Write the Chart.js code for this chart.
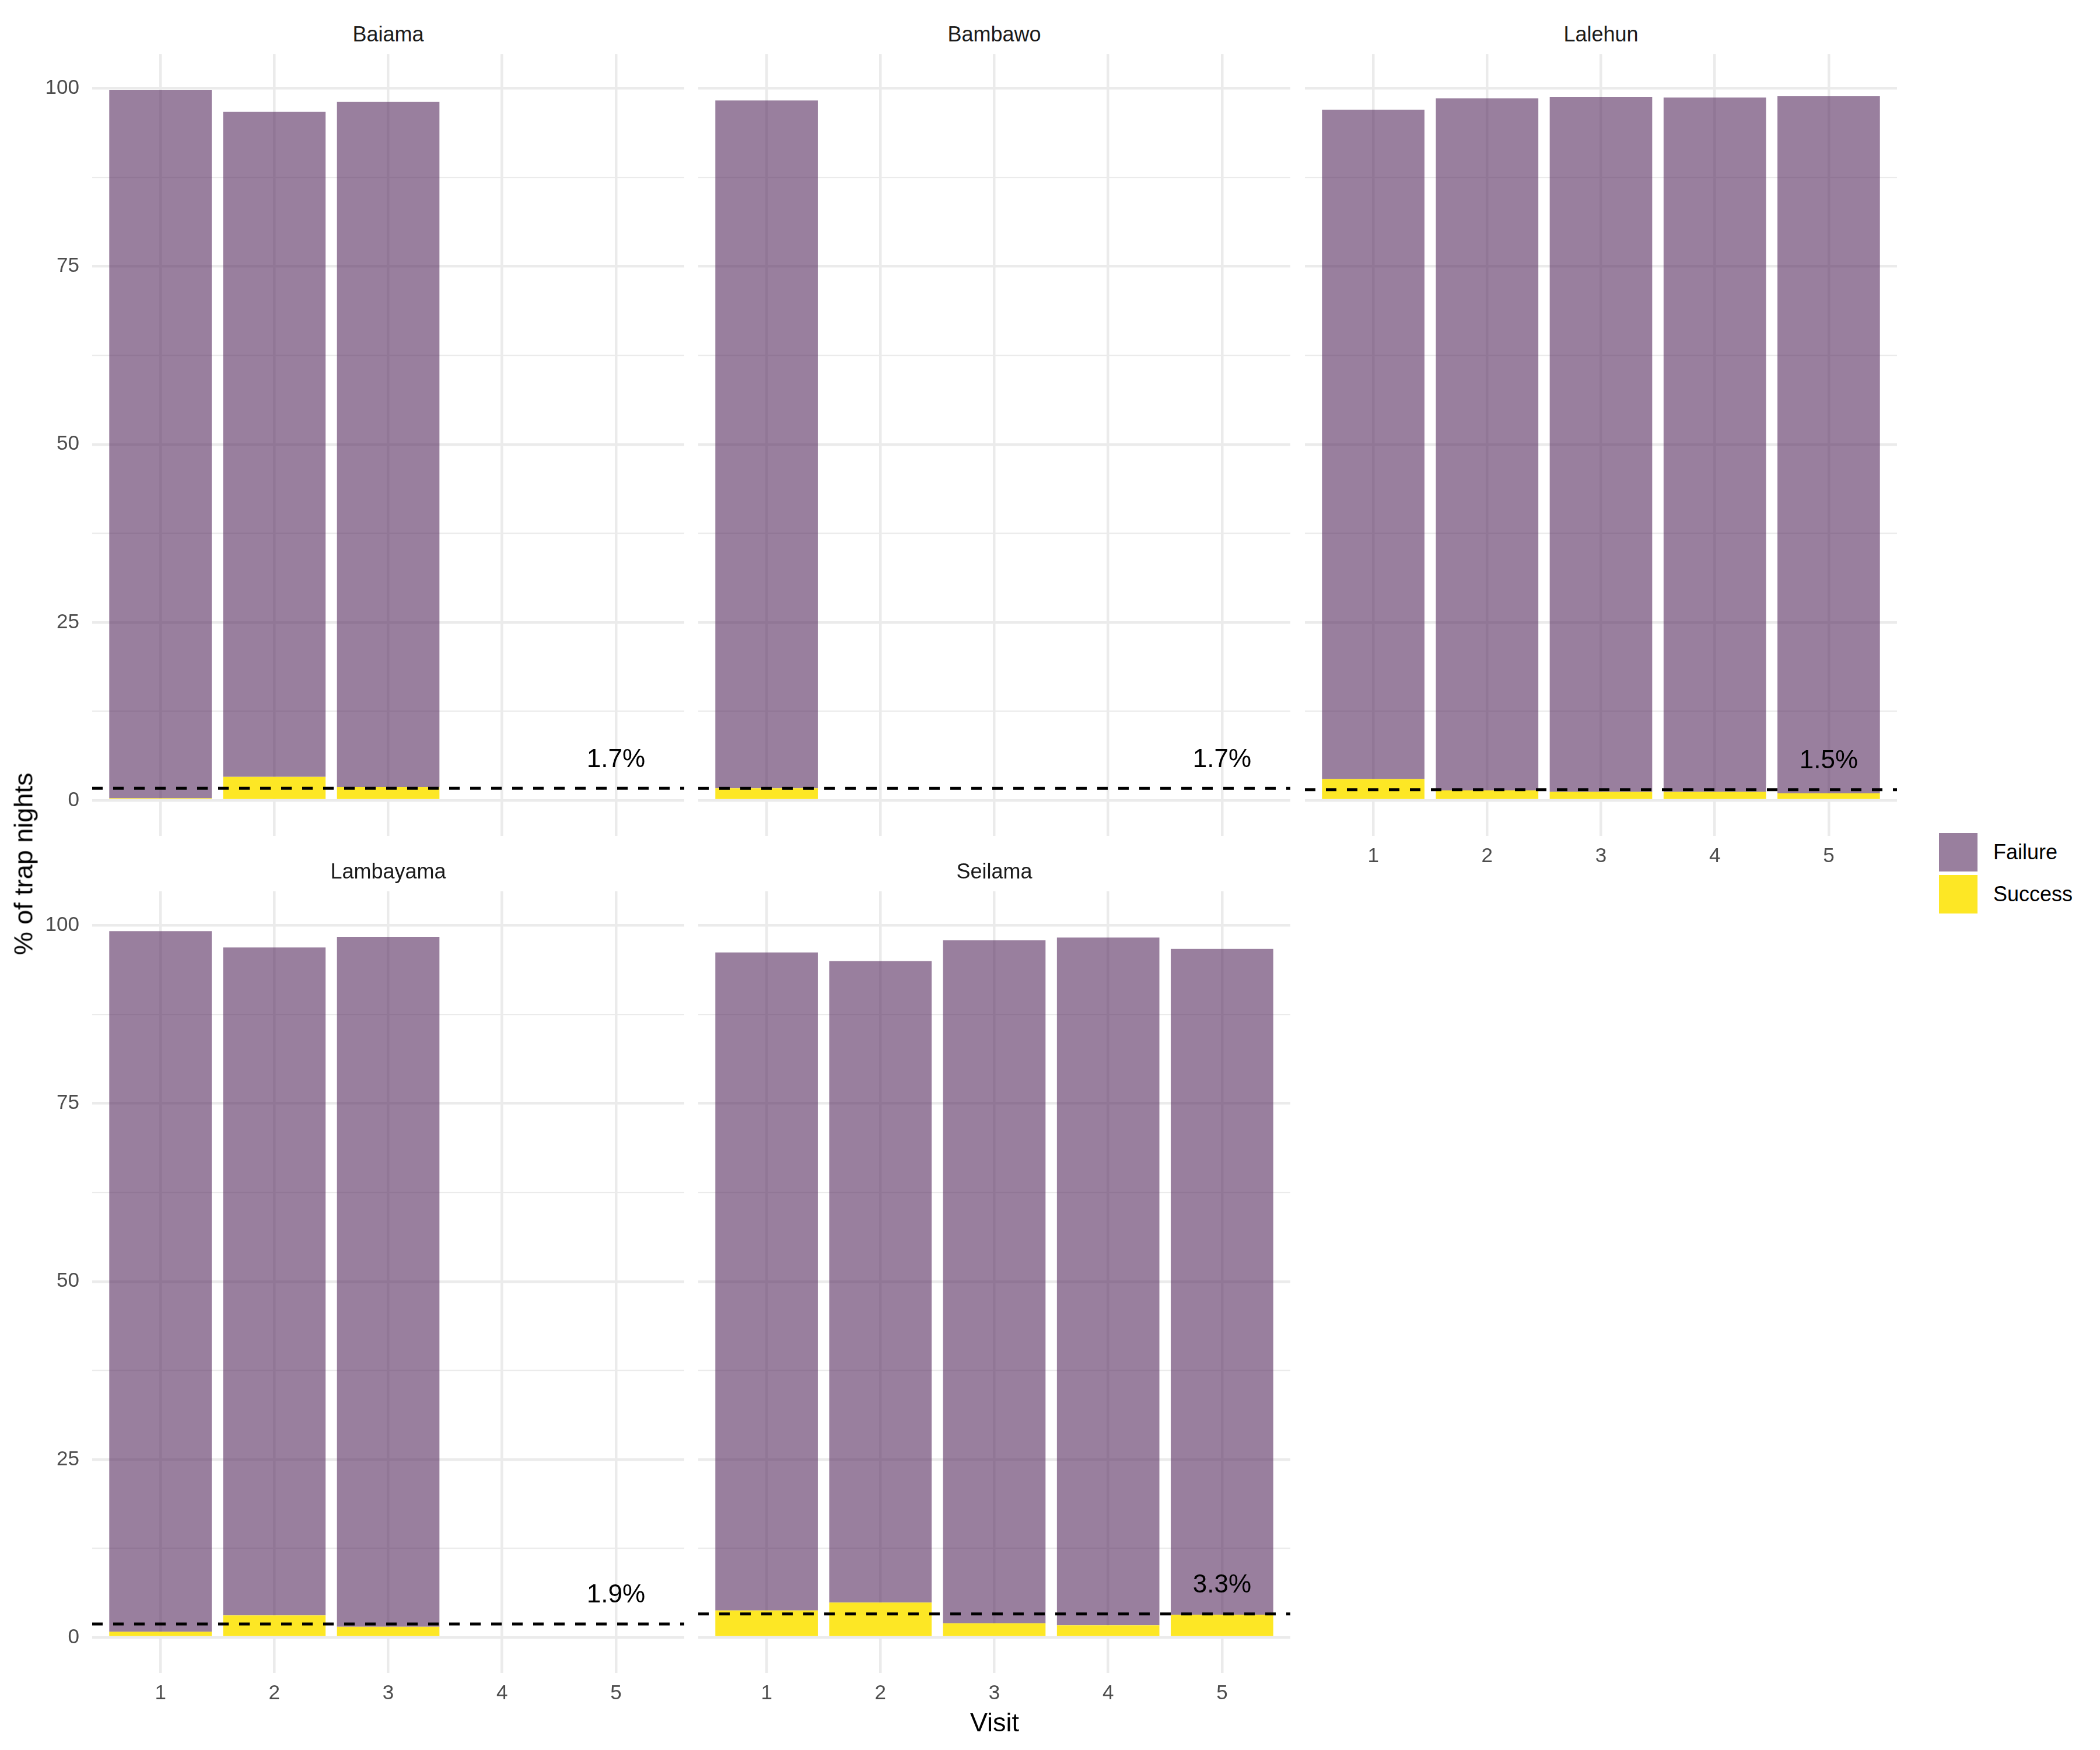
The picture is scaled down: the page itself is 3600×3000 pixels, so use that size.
<!DOCTYPE html>
<html>
<head>
<meta charset="utf-8">
<title>Trap success by visit</title>
<script src="https://cdn.jsdelivr.net/npm/chart.js@4.4.0/dist/chart.umd.min.js"></script>
<style>
  body { margin: 0; background: #fff; font-family: "Liberation Sans", Arial, sans-serif; }
  #page { position: relative; width: 3600px; height: 3000px; background: #fff; overflow: hidden; }
  #page canvas { position: absolute; }
  .lbl { position: absolute; white-space: nowrap; line-height: 1; }
  .strip { font-size: 36px; color: #1a1a1a; }
  .title { font-size: 45px; color: #000; }
  .key { position: absolute; width: 66px; height: 66px; }
  .keytxt { position: absolute; font-size: 36px; line-height: 1; transform: translateY(-50%); color: #000; }
</style>
</head>
<body>
<div id="page"></div>
<script>
// --- data (percent of trap nights) ---
const sites = ['Baiama', 'Bambawo', 'Lalehun', 'Lambayama', 'Seilama'];
const visits = [1, 2, 3, 4, 5];
const successPct = [
    [0.3, 3.3, 1.9, null, null],
    [1.7, null, null, null, null],
    [3.0, 1.4, 1.2, 1.2, 1.0],
    [0.8, 3.1, 1.5, null, null],
    [3.8, 4.9, 2.0, 1.7, 3.2]
];
const failurePct = [
    [99.5, 93.4, 96.2, null, null],
    [96.6, null, null, null, null],
    [94.0, 97.2, 97.6, 97.5, 97.9],
    [98.4, 93.8, 96.9, null, null],
    [92.4, 90.1, 95.9, 96.6, 93.5]
];
const overallSuccess = [1.7, 1.7, 1.5, 1.9, 3.3];
const yTicks = [0, 25, 50, 75, 100];
const yMinorTicks = [12.5, 37.5, 62.5, 87.5];

// --- layout (ggplot facet_wrap look) ---
const FAIL_COLOR = 'rgba(85, 42, 93, 0.6)';
const SUCC_COLOR = '#FDE725';
const GRID = '#EBEBEB';
const panelW = 1015, panelH = 1340;
const colLeft = [158, 1197, 2237];
const rowTop = [93, 1528];
const YW = 120, XH = 80;
const labelNudge = 4;

// shared y range: 5% expansion like ggplot
let maxTotal = 0;
successPct.forEach((row, i) => row.forEach((s, j) => {
    if (s !== null) maxTotal = Math.max(maxTotal, s + failurePct[i][j]);
}));
const yMin = -0.05 * maxTotal;
const yMax = 1.05 * maxTotal;

const page = document.getElementById('page');

const addLabel = (text, cls, x, y, rotate) => {
    const d = document.createElement('div');
    d.className = 'lbl ' + cls;
    d.textContent = text;
    d.style.left = x + 'px';
    d.style.top = y + 'px';
    d.style.transform = 'translate(-50%, -50%)' + (rotate ? ' rotate(' + rotate + 'deg)' : '');
    page.appendChild(d);
};

// no extra padding from scale labels, so every panel gets the same plot area
const noPad = (s) => {
    s.paddingTop = 0;
    s.paddingBottom = 0;
    s.paddingLeft = 0;
    s.paddingRight = 0;
};

// dashed overall mean line + its label
const hlinePlugin = {
    id: 'hline',
    afterDatasetsDraw(chart, args, opts) {
        const { ctx, chartArea, scales } = chart;
        const y = scales.y.getPixelForValue(opts.value);
        ctx.save();
        ctx.beginPath();
        ctx.setLineDash([18, 18]);
        ctx.lineWidth = 5;
        ctx.strokeStyle = '#000';
        ctx.moveTo(chartArea.left, y);
        ctx.lineTo(chartArea.right, y);
        ctx.stroke();
        ctx.setLineDash([]);
        ctx.font = '44px "Liberation Sans", Arial, sans-serif';
        ctx.fillStyle = '#000';
        ctx.textAlign = 'center';
        ctx.textBaseline = 'middle';
        ctx.fillText(opts.value.toFixed(1) + '%',
            scales.x.getPixelForValue(visits[visits.length - 1]),
            scales.y.getPixelForValue(opts.value + labelNudge));
        ctx.restore();
    }
};

const toPoints = (arr) => visits
    .map((v, j) => ({ x: v, y: arr[j] }))
    .filter(p => p.y !== null);

sites.forEach((site, i) => {
    const col = i % 3, row = Math.floor(i / 3);
    const showX = row === 1 || col === 2;
    const showY = col === 0;

    const canvas = document.createElement('canvas');
    canvas.width = YW + panelW;
    canvas.height = panelH + XH;
    canvas.style.left = (colLeft[col] - YW) + 'px';
    canvas.style.top = rowTop[row] + 'px';
    page.appendChild(canvas);

    new Chart(canvas.getContext('2d'), {
        type: 'bar',
        data: {
            datasets: [
                { label: 'Success', data: toPoints(successPct[i]), backgroundColor: SUCC_COLOR },
                { label: 'Failure', data: toPoints(failurePct[i]), backgroundColor: FAIL_COLOR }
            ]
        },
        options: {
            responsive: false,
            animation: false,
            layout: { padding: 0, autoPadding: false },
            datasets: {
                bar: { categoryPercentage: 1, barPercentage: 0.9, borderWidth: 0, inflateAmount: 0 }
            },
            plugins: {
                legend: { display: false },
                tooltip: { enabled: false },
                hline: { value: overallSuccess[i] }
            },
            scales: {
                x: {
                    type: 'linear',
                    stacked: true,
                    min: 0.4,
                    max: 5.6,
                    offset: false,
                    bounds: 'data',
                    afterBuildTicks: (s) => { s.ticks = visits.map(v => ({ value: v })); },
                    afterFit: (s) => { s.height = XH; noPad(s); },
                    border: { display: false },
                    grid: { offset: false, color: GRID, lineWidth: 4.5, drawTicks: false },
                    ticks: {
                        display: showX,
                        autoSkip: false,
                        padding: 14,
                        color: '#4D4D4D',
                        font: { family: '"Liberation Sans", Arial, sans-serif', size: 35 },
                        callback: (v) => String(v)
                    }
                },
                y: {
                    stacked: true,
                    min: yMin,
                    max: yMax,
                    bounds: 'data',
                    afterBuildTicks: (s) => {
                        s.ticks = yTicks.concat(yMinorTicks).sort((a, b) => a - b).map(v => ({ value: v }));
                    },
                    afterFit: (s) => { s.width = YW; noPad(s); },
                    border: { display: false },
                    grid: {
                        color: GRID,
                        drawTicks: false,
                        lineWidth: (c) => yTicks.includes(c.tick.value) ? 4.5 : 2.3
                    },
                    ticks: {
                        display: showY,
                        autoSkip: false,
                        padding: 22,
                        color: '#4D4D4D',
                        font: { family: '"Liberation Sans", Arial, sans-serif', size: 35 },
                        callback: (v) => yTicks.includes(v) ? String(v) : ''
                    }
                }
            }
        },
        plugins: [hlinePlugin]
    });

    addLabel(site, 'strip', colLeft[col] + panelW / 2, rowTop[row] - 34);
});

// axis titles
addLabel('Visit', 'title', (colLeft[0] + colLeft[2] + panelW) / 2, 2952);
addLabel('% of trap nights', 'title', 40, (rowTop[0] + rowTop[1] + panelH) / 2, -90);

// legend
const legendItems = [['Failure', FAIL_COLOR, 1428], ['Success', SUCC_COLOR, 1500]];
legendItems.forEach(([name, color, top]) => {
    const k = document.createElement('div');
    k.className = 'key';
    k.style.left = '3324px';
    k.style.top = top + 'px';
    k.style.background = color;
    page.appendChild(k);
    const t = document.createElement('div');
    t.className = 'keytxt';
    t.textContent = name;
    t.style.left = '3417px';
    t.style.top = (top + 33) + 'px';
    page.appendChild(t);
});
</script>
</body>
</html>
